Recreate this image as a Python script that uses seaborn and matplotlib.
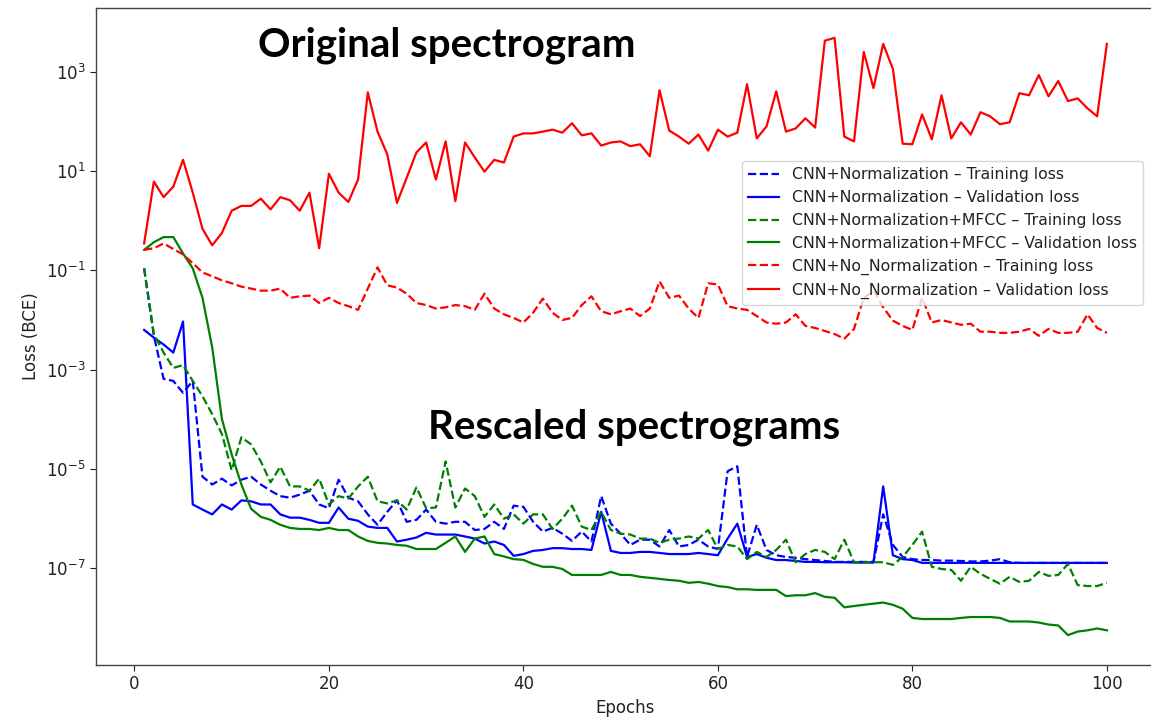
import numpy as np
import pandas as pd
import matplotlib
matplotlib.use("Agg")
import matplotlib.pyplot as plt
import seaborn as sns
from matplotlib.ticker import LogFormatterSciNotation, NullLocator

# ---------------- data ----------------
epochs = list(range(1, 101))

norm_train = [0.11, 4.8e-3, 6.5e-4, 5.9e-4, 3.4e-4, 5.9e-4, 6.9e-6, 4.8e-6, 6.3e-6, 4.6e-6,
              6.0e-6, 6.9e-6, 4.8e-6, 3.6e-6, 2.8e-6, 2.6e-6, 3.0e-6, 3.6e-6, 1.9e-6, 1.6e-6,
              6.0e-6, 2.6e-6, 2.2e-6, 1.2e-6, 7.4e-7, 1.35e-6, 2.3e-6, 8.5e-7, 9.3e-7, 1.5e-6,
              8.5e-7, 7.8e-7, 8.5e-7, 8.5e-7, 5.8e-7, 6.1e-7, 8.5e-7, 6.1e-7, 1.8e-6, 1.7e-6,
              8.5e-7, 5.4e-7, 6.4e-7, 4.9e-7, 3.5e-7, 5.4e-7, 3.4e-7, 2.8e-6, 7.8e-7, 4.9e-7,
              2.9e-7, 3.7e-7, 3.7e-7, 2.7e-7, 5.8e-7, 2.7e-7, 2.9e-7, 3.7e-7, 2.7e-7, 2.4e-7,
              8.9e-6, 1.12e-5, 1.66e-7, 7.4e-7, 2.3e-7, 1.8e-7, 1.66e-7, 1.6e-7, 1.5e-7, 1.44e-7,
              1.38e-7, 1.32e-7, 1.32e-7, 1.32e-7, 1.32e-7, 1.32e-7, 1.2e-6, 2.9e-7, 1.66e-7, 1.5e-7,
              1.44e-7, 1.44e-7, 1.4e-7, 1.4e-7, 1.38e-7, 1.35e-7, 1.35e-7, 1.4e-7, 1.5e-7, 1.3e-7,
              1.26e-7, 1.26e-7, 1.26e-7, 1.26e-7, 1.26e-7, 1.26e-7, 1.26e-7, 1.26e-7, 1.26e-7, 1.26e-7]

norm_val = [6.3e-3, 4.4e-3, 3.2e-3, 2.2e-3, 9.3e-3, 1.9e-6, 1.5e-6, 1.2e-6, 1.9e-6, 1.5e-6,
            2.3e-6, 2.2e-6, 1.9e-6, 1.9e-6, 1.2e-6, 1.03e-6, 1.03e-6, 9.3e-7, 8.1e-7, 8.1e-7,
            1.65e-6, 9.8e-7, 8.9e-7, 6.8e-7, 6.4e-7, 6.4e-7, 3.4e-7, 3.7e-7, 4.1e-7, 5.1e-7,
            4.7e-7, 4.7e-7, 4.7e-7, 4.3e-7, 3.9e-7, 3.1e-7, 3.4e-7, 2.9e-7, 1.75e-7, 1.9e-7,
            2.2e-7, 2.3e-7, 2.5e-7, 2.5e-7, 2.4e-7, 2.4e-7, 2.3e-7, 1.35e-6, 2.2e-7, 2.0e-7,
            2.0e-7, 2.1e-7, 2.1e-7, 2.0e-7, 1.9e-7, 1.9e-7, 1.9e-7, 2.0e-7, 1.9e-7, 1.8e-7,
            3.9e-7, 7.8e-7, 1.66e-7, 1.9e-7, 1.6e-7, 1.44e-7, 1.44e-7, 1.38e-7, 1.32e-7, 1.32e-7,
            1.3e-7, 1.3e-7, 1.3e-7, 1.28e-7, 1.28e-7, 1.28e-7, 4.4e-6, 1.8e-7, 1.5e-7, 1.44e-7,
            1.26e-7, 1.26e-7, 1.26e-7, 1.26e-7, 1.26e-7, 1.26e-7, 1.26e-7, 1.26e-7, 1.26e-7, 1.26e-7,
            1.26e-7, 1.26e-7, 1.26e-7, 1.26e-7, 1.26e-7, 1.26e-7, 1.26e-7, 1.26e-7, 1.26e-7, 1.26e-7]

mfcc_train = [0.11, 5.2e-3, 2.2e-3, 1.08e-3, 1.23e-3, 5.9e-4, 2.9e-4, 1.26e-4, 5.0e-5, 9.3e-6,
              4.3e-5, 3.1e-5, 1.4e-5, 5.3e-6, 1.1e-5, 4.4e-6, 4.4e-6, 3.6e-6, 6.3e-6, 1.9e-6,
              2.8e-6, 2.5e-6, 4.4e-6, 6.9e-6, 2.2e-6, 2.0e-6, 2.3e-6, 1.5e-6, 4.2e-6, 1.6e-6,
              1.65e-6, 1.4e-5, 1.65e-6, 4.0e-6, 2.8e-6, 1.07e-6, 1.9e-6, 9.8e-7, 1.2e-6, 7.8e-7,
              1.2e-6, 1.2e-6, 6.1e-7, 9.8e-7, 1.8e-6, 6.8e-7, 5.8e-7, 1.35e-6, 5.8e-7, 4.9e-7,
              4.7e-7, 3.9e-7, 3.9e-7, 3.2e-7, 3.7e-7, 3.9e-7, 4.3e-7, 3.9e-7, 5.8e-7, 2.4e-7,
              2.9e-7, 2.7e-7, 1.5e-7, 2.1e-7, 1.66e-7, 2.3e-7, 3.7e-7, 1.3e-7, 1.9e-7, 2.3e-7,
              2.1e-7, 1.5e-7, 3.7e-7, 1.3e-7, 1.3e-7, 1.3e-7, 1.3e-7, 1.15e-7, 1.66e-7, 2.9e-7,
              5.4e-7, 1.05e-7, 9.5e-8, 9.1e-8, 5.5e-8, 1.05e-7, 7.6e-8, 6.0e-8, 4.8e-8, 6.6e-8,
              5.2e-8, 5.5e-8, 8.3e-8, 6.9e-8, 7.2e-8, 1.2e-7, 4.5e-8, 4.3e-8, 4.3e-8, 5.0e-8]

mfcc_val = [0.26, 0.37, 0.47, 0.47, 0.22, 0.11, 0.028, 0.0028, 1.0e-4, 1.95e-5,
            4.8e-6, 1.55e-6, 1.07e-6, 9.3e-7, 7.4e-7, 6.4e-7, 6.1e-7, 6.1e-7, 5.8e-7, 6.4e-7,
            5.8e-7, 5.8e-7, 4.3e-7, 3.5e-7, 3.2e-7, 3.1e-7, 2.9e-7, 2.8e-7, 2.4e-7, 2.4e-7,
            2.4e-7, 3.2e-7, 4.3e-7, 2.1e-7, 3.9e-7, 4.3e-7, 1.9e-7, 1.7e-7, 1.5e-7, 1.45e-7,
            1.2e-7, 1.05e-7, 1.05e-7, 9.5e-8, 7.2e-8, 7.2e-8, 7.2e-8, 7.2e-8, 8.3e-8, 7.2e-8,
            7.2e-8, 6.6e-8, 6.3e-8, 6.0e-8, 5.7e-8, 5.5e-8, 5.0e-8, 5.2e-8, 4.8e-8, 4.3e-8,
            4.1e-8, 3.7e-8, 3.7e-8, 3.6e-8, 3.6e-8, 3.6e-8, 2.7e-8, 2.8e-8, 2.8e-8, 3.1e-8,
            2.6e-8, 2.5e-8, 1.6e-8, 1.7e-8, 1.8e-8, 1.9e-8, 2.0e-8, 1.8e-8, 1.5e-8, 9.8e-9,
            9.3e-9, 9.3e-9, 9.3e-9, 9.3e-9, 9.8e-9, 1.02e-8, 1.02e-8, 1.02e-8, 9.8e-9, 8.3e-9,
            8.3e-9, 8.3e-9, 7.9e-9, 7.2e-9, 6.9e-9, 4.4e-9, 5.2e-9, 5.5e-9, 6.0e-9, 5.5e-9]

nonorm_train = [0.26, 0.28, 0.35, 0.27, 0.21, 0.14, 0.091, 0.076, 0.063, 0.055,
                0.047, 0.043, 0.039, 0.039, 0.043, 0.028, 0.030, 0.031, 0.022, 0.028,
                0.022, 0.019, 0.016, 0.043, 0.115, 0.050, 0.045, 0.034, 0.022, 0.020,
                0.017, 0.018, 0.020, 0.019, 0.016, 0.034, 0.017, 0.013, 0.011, 0.0089,
                0.014, 0.027, 0.014, 0.010, 0.011, 0.020, 0.030, 0.015, 0.013, 0.015,
                0.017, 0.012, 0.017, 0.060, 0.028, 0.031, 0.017, 0.011, 0.055, 0.052,
                0.019, 0.017, 0.016, 0.012, 0.0089, 0.0084, 0.0089, 0.013, 0.0076, 0.0069,
                0.0060, 0.0052, 0.0042, 0.0066, 0.028, 0.039, 0.018, 0.0097, 0.0076, 0.0063,
                0.028, 0.0089, 0.010, 0.0089, 0.0080, 0.0084, 0.0058, 0.0058, 0.0055, 0.0055,
                0.0058, 0.0066, 0.0048, 0.0066, 0.0055, 0.0055, 0.0058, 0.013, 0.0069, 0.0055]

nonorm_val = [0.35, 6.2, 3.0, 4.9, 17, 3.7, 0.69, 0.32, 0.57, 1.6,
              2.0, 2.0, 2.8, 1.7, 3.0, 2.6, 1.6, 3.7, 0.28, 8.9,
              3.7, 2.4, 6.8, 390, 63, 22, 2.3, 7.4, 24, 38,
              6.8, 40, 2.5, 38, 19, 9.8, 17, 15, 50, 58,
              58, 63, 69, 60, 93, 53, 58, 33, 38, 40,
              32, 35, 20, 430, 66, 50, 36, 55, 26, 69,
              50, 60, 570, 46, 80, 410, 63, 73, 117, 76,
              4300, 4900, 50, 40, 2550, 475, 3700, 1150, 36, 35,
              140, 44, 340, 46, 97, 55, 155, 128, 89, 97,
              375, 340, 870, 325, 660, 260, 295, 186, 128, 3700]

labels = ["CNN+Normalization \u2013 Training loss",
          "CNN+Normalization \u2013 Validation loss",
          "CNN+Normalization+MFCC \u2013 Training loss",
          "CNN+Normalization+MFCC \u2013 Validation loss",
          "CNN+No_Normalization \u2013 Training loss",
          "CNN+No_Normalization \u2013 Validation loss"]
series = [norm_train, norm_val, mfcc_train, mfcc_val, nonorm_train, nonorm_val]
colors = ["blue", "blue", "green", "green", "red", "red"]
styles = ["--", "-", "--", "-", "--", "-"]

y_ticks = [1e3, 1e1, 1e-1, 1e-3, 1e-5, 1e-7]
x_ticks = [0, 20, 40, 60, 80, 100]

# ---------------- figure ----------------
fig = plt.figure(figsize=(11.51, 7.21), dpi=100)
ax = fig.add_axes([96 / 1151, 1 - 665 / 721, (1155 - 96) / 1151, (665 - 8) / 721])

for vals, lab, col, ls in zip(series, labels, colors, styles):
    df = pd.DataFrame({"Epochs": epochs, "Loss": vals})
    sns.lineplot(data=df, x="Epochs", y="Loss", color=col, linestyle=ls,
                 linewidth=1.6, label=lab, ax=ax)

ax.set_yscale("log")
ax.set_yticks(y_ticks)
ax.yaxis.set_major_formatter(LogFormatterSciNotation())
ax.yaxis.set_minor_locator(NullLocator())
ax.set_xticks(x_ticks)
ax.margins(x=0.05, y=0.05)

ax.set_xlabel("Epochs", fontsize=12, color="#222222")
ax.set_ylabel("Loss (BCE)", fontsize=12, color="#222222")
ax.tick_params(axis="both", labelsize=12, colors="#222222", length=4)
for sp in ax.spines.values():
    sp.set_color("#444444")
    sp.set_linewidth(1.0)
ax.spines["right"].set_visible(False)

leg = ax.legend(loc="upper right", bbox_to_anchor=(0.9887, 0.767), borderaxespad=0,
                fontsize=11.3, frameon=True, handlelength=2.0)
leg.get_frame().set_edgecolor("#cccccc")
for t in leg.get_texts():
    t.set_color("#222222")

fig.text(258 / 1151, 1 - 57 / 721, "Original spectrogram", fontsize=29,
         fontweight="bold", family="Lato", ha="left", va="baseline", color="black")
fig.text(428 / 1151, 1 - 439 / 721, "Rescaled spectrograms", fontsize=29,
         fontweight="bold", family="Lato", ha="left", va="baseline", color="black")

fig.savefig("out.png", dpi=100)
